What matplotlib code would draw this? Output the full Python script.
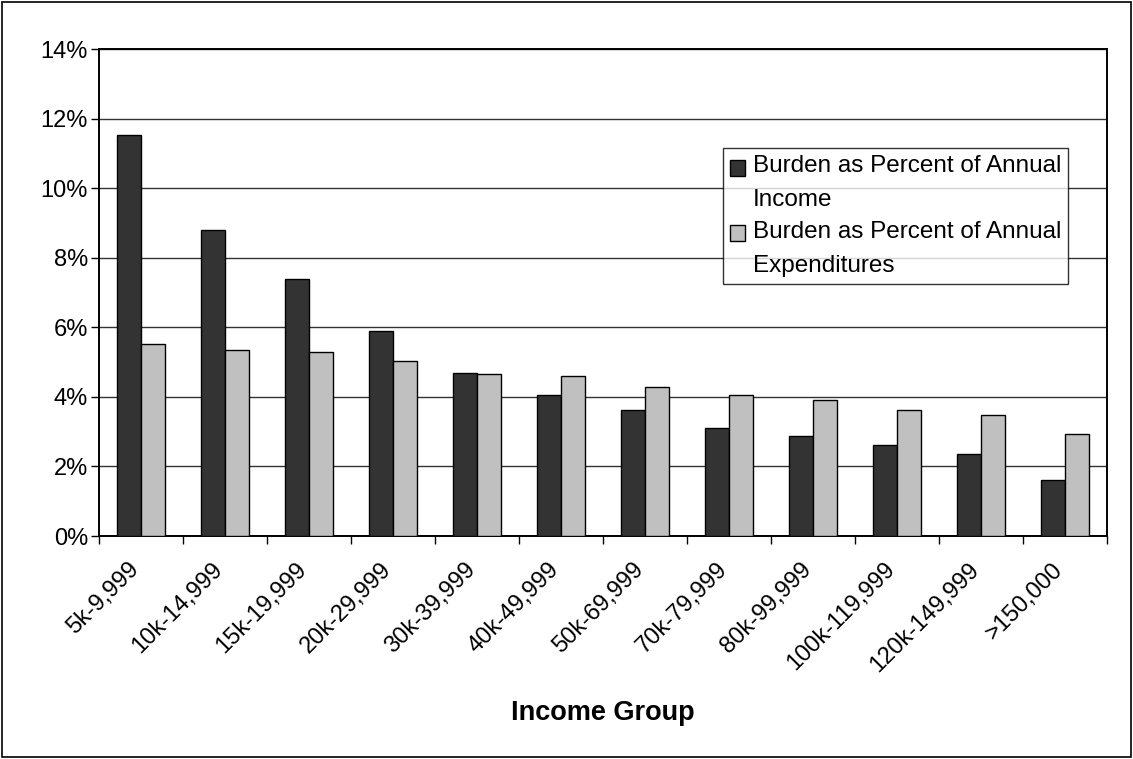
import matplotlib.pyplot as plt
import numpy as np
from matplotlib.patches import Rectangle
from matplotlib.container import BarContainer
from matplotlib.ticker import FuncFormatter
from matplotlib.transforms import ScaledTranslation
from matplotlib.legend_handler import HandlerPatch, update_from_first_child

plt.rcParams['font.family'] = ['Liberation Sans', 'DejaVu Sans']

groups = ['5k-9,999', '10k-14,999', '15k-19,999', '20k-29,999', '30k-39,999',
          '40k-49,999', '50k-69,999', '70k-79,999', '80k-99,999',
          '100k-119,999', '120k-149,999', '>150,000']
pct_income = [11.52, 8.79, 7.39, 5.89, 4.70, 4.05, 3.63, 3.10, 2.88, 2.62, 2.36, 1.61]
pct_expend = [5.52, 5.34, 5.29, 5.03, 4.65, 4.59, 4.27, 4.05, 3.91, 3.63, 3.47, 2.94]
series_names = ['Burden as Percent of Annual\nIncome',
                'Burden as Percent of Annual\nExpenditures']

fig = plt.figure(figsize=(11.33, 7.59), dpi=100)
fig.patches.append(Rectangle((0.002, 0.003), 0.996, 0.994, transform=fig.transFigure,
                             fill=False, edgecolor='black', linewidth=1.2))
ax = fig.add_axes([0.0874, 0.2938, 0.8897, 0.6416])

x = np.arange(len(groups))
w = 0.29
ax.bar(x - w / 2, pct_income, w, color='#333333', edgecolor='black', linewidth=1,
       label=series_names[0], zorder=3)
ax.bar(x + w / 2, pct_expend, w, color='#c0c0c0', edgecolor='black', linewidth=1,
       label=series_names[1], zorder=3)

ax.set_xlim(-0.5, len(groups) - 0.5)
ax.set_ylim(0, 14)
ax.set_yticks(np.arange(0, 15, 2))
ax.yaxis.set_major_formatter(FuncFormatter(lambda v, p: '%d%%' % v))
ax.yaxis.grid(True, color='#333333', linewidth=1, zorder=0)

# category ticks sit between groups, labels sit under the group centres
ax.set_xticks(np.arange(-0.5, len(groups), 1.0))
ax.set_xticklabels([])
ax.set_xticks(x, minor=True)
ax.set_xticklabels(groups, minor=True, rotation=45, ha='right',
                   rotation_mode='anchor', fontsize=17)
ax.tick_params(axis='x', which='minor', length=0, pad=14)
ax.tick_params(axis='x', which='major', length=6, width=1, direction='out')
ax.tick_params(axis='y', length=6, width=1, direction='out', labelsize=17, pad=2)

shift = ScaledTranslation(-0.13, -0.03, fig.dpi_scale_trans)
for lab in ax.get_xticklabels(minor=True):
    lab.set_transform(lab.get_transform() + shift)

for s in ax.spines.values():
    s.set_linewidth(1.4)
    s.set_color('black')

fig.text(0.532, 1 - 713 / 759, 'Income Group', fontsize=19.5, fontweight='bold',
         ha='center', va='center')


# legend swatch level with the first line of a two-line label
def top_square(legend, orig_handle, xdescent, ydescent, width, height, fontsize):
    return Rectangle((-xdescent, -ydescent + 0.64 * fontsize), width, height)


leg = ax.legend(loc='upper left', bbox_to_anchor=(0.638, 0.805),
                bbox_transform=fig.transFigure, fontsize=17.5, frameon=True,
                fancybox=False, shadow=False, handlelength=0.62, handleheight=0.62,
                handletextpad=0.3, borderpad=0.3, labelspacing=0.4,
                borderaxespad=0,
                handler_map={BarContainer: HandlerPatch(
                    patch_func=top_square, update_func=update_from_first_child)})
for t in leg.get_texts():
    t.set_linespacing(1.7)
leg.get_frame().set_edgecolor('black')
leg.get_frame().set_linewidth(1)
leg.set_zorder(5)

fig.savefig('out.png', dpi=100)
